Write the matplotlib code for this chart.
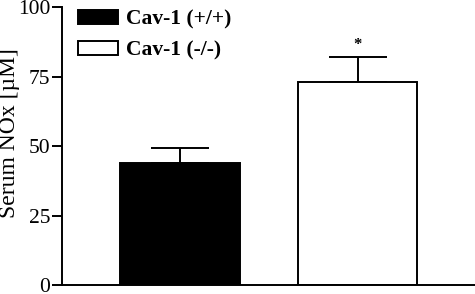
import matplotlib
matplotlib.use("Agg")
import matplotlib.pyplot as plt
import numpy as np

groups = ["Cav-1 (+/+)", "Cav-1 (-/-)"]
nox_mean = [44, 73]
nox_sem = [5.5, 9]
bar_colors = ["black", "white"]
yticks = [0, 25, 50, 75, 100]

plt.rcParams["font.family"] = ["Liberation Serif", "DejaVu Serif"]

fig = plt.figure(figsize=(4.75, 2.94), dpi=100)
ax = fig.add_axes([0.1305, 0.03, 0.8695, 0.946])

x = np.arange(len(groups))
bars = ax.bar(x, nox_mean, width=0.676, color=bar_colors, edgecolor="black",
              linewidth=1.4, label=groups, zorder=2)
ax.errorbar(x, nox_mean, yerr=[np.zeros(len(x)), nox_sem], fmt="none",
            ecolor="black", elinewidth=1.4, capsize=21, capthick=1.4, zorder=1)

# significance marker
ax.text(x[1], nox_mean[1] + nox_sem[1] + 4.5, "*", ha="center", va="center",
        fontsize=12, fontweight="bold")

ax.set_xlim(-0.665, 1.662)
ax.set_ylim(0, 100)
ax.set_yticks(yticks)
ax.set_xticks([])
ax.tick_params(axis="y", length=7, width=1.4, labelsize=15.5, pad=1.5)

# y label sits a bit above the axis centre in the original
fig.text(10 / 475, 1 - 133 / 294, "Serum NOx [\u00b5M]", rotation=90,
         ha="center", va="center", fontsize=17)

for s in ["top", "right"]:
    ax.spines[s].set_visible(False)
for s in ["left", "bottom"]:
    ax.spines[s].set_linewidth(1.4)
ax.spines["left"].set_bounds(0, 100)

leg = ax.legend(handles=bars, labels=groups, loc="upper left",
                bbox_to_anchor=(0.038, 0.99), frameon=False, borderpad=0,
                borderaxespad=0, handlelength=1.85, handleheight=0.6,
                handletextpad=0.38, labelspacing=0.5,
                prop={"size": 15.5, "weight": "bold"})

fig.savefig("out.png", dpi=100)
